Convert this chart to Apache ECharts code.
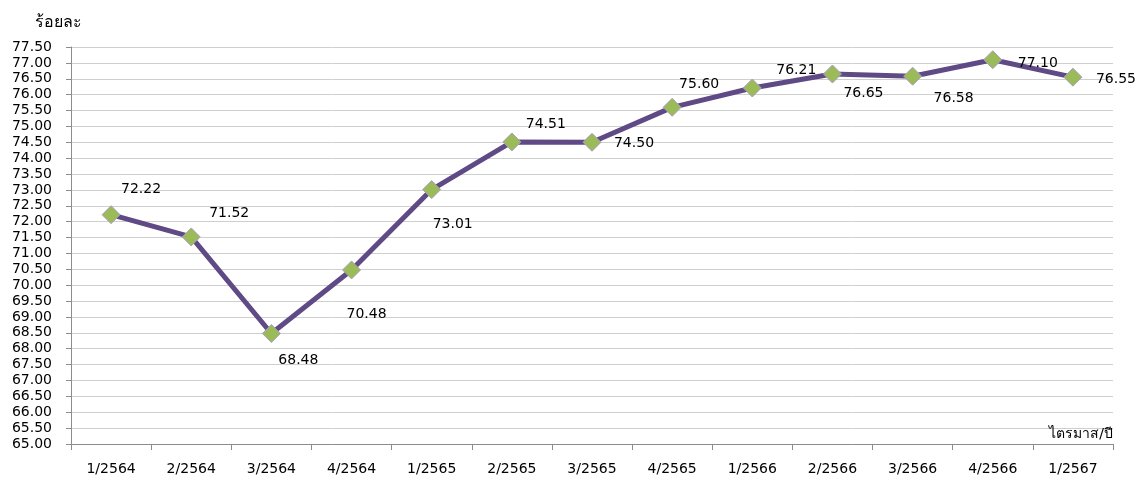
<!DOCTYPE html>
<html>
<head>
<meta charset="utf-8">
<script src="https://cdn.jsdelivr.net/npm/echarts@6/dist/echarts.min.js"></script>
<style>
    html, body { margin: 0; padding: 0; background: #fff; }
    #chart { width: 1146px; height: 484px; }
</style>
</head>
<body>
<div id="chart"></div>
<script>
    var quarters = ['1/2564', '2/2564', '3/2564', '4/2564', '1/2565', '2/2565', '3/2565', '4/2565', '1/2566', '2/2566', '3/2566', '4/2566', '1/2567'];
    var rates = [72.22, 71.52, 68.48, 70.48, 73.01, 74.51, 74.50, 75.60, 76.21, 76.65, 76.58, 77.10, 76.55];
    // label offsets from each point, as placed in the original
    var labelOffsets = [[30, -25], [38, -24], [27, 27], [15, 44], [21, 35], [34, -18], [42, 1], [27, -23], [44, -18], [31, 19], [41, 22], [45, 4], [43, 2]];

    var font = '"DejaVu Sans", Tahoma, "Noto Sans", sans-serif';

    var points = [];
    for (var i = 0; i < rates.length; i++) {
        points.push({
            value: rates[i],
            label: { offset: labelOffsets[i] }
        });
    }

    var chart = echarts.init(document.getElementById('chart'));
    chart.setOption({
        animation: false,
        textStyle: { fontFamily: font },
        grid: { left: 71, right: 33, top: 47, bottom: 40, containLabel: false },
        xAxis: {
            type: 'category',
            data: quarters,
            boundaryGap: true,
            name: 'ไตรมาส/ปี',
            nameLocation: 'end',
            nameGap: 0,
            nameTextStyle: { fontSize: 14, color: '#000', align: 'right', verticalAlign: 'bottom', padding: [0, 0, 3, 0] },
            axisLine: { lineStyle: { color: '#8c8c8c', width: 1 } },
            axisTick: { show: true, alignWithLabel: false, length: 6, lineStyle: { color: '#8c8c8c' } },
            axisLabel: { color: '#000', fontSize: 14, margin: 18 },
            splitLine: { show: false }
        },
        yAxis: {
            type: 'value',
            min: 65,
            max: 77.5,
            interval: 0.5,
            name: 'ร้อยละ',
            nameLocation: 'end',
            nameGap: 16,
            nameTextStyle: { fontSize: 16, color: '#000', align: 'center', verticalAlign: 'bottom', padding: [0, 26, 0, 0] },
            axisLine: { show: true, lineStyle: { color: '#8c8c8c', width: 1 } },
            axisTick: { show: true, inside: false, length: 5, lineStyle: { color: '#8c8c8c' } },
            axisLabel: {
                color: '#000', fontSize: 14, margin: 19,
                formatter: function (v) { return v.toFixed(2); }
            },
            splitLine: { show: true, lineStyle: { color: '#cfcfcf', width: 1 } }
        },
        series: [{
            type: 'line',
            data: points,
            lineStyle: { color: '#5f4a85', width: 5 },
            symbol: 'diamond',
            symbolSize: 18,
            itemStyle: { color: '#9bbb59', borderColor: '#a99cbf', borderWidth: 1 },
            label: {
                show: true,
                position: 'inside',
                color: '#000',
                fontSize: 14,
                formatter: function (p) { return p.value.toFixed(2); }
            }
        }]
    });
</script>
</body>
</html>
